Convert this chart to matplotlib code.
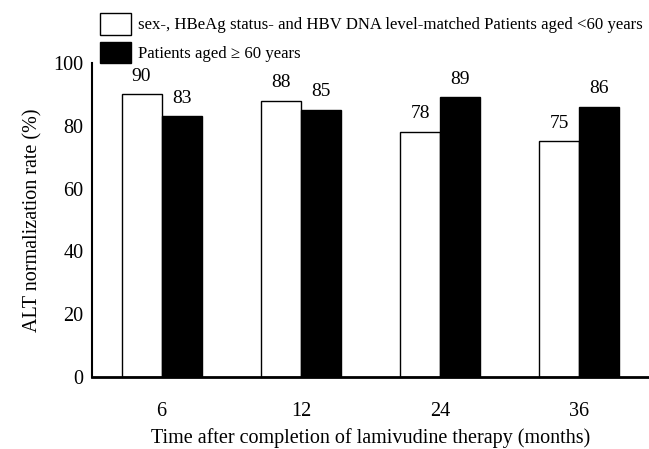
import numpy as np
import matplotlib.pyplot as plt
from matplotlib.patches import Patch

# ALT normalization rate after lamivudine, by age group
months = ['6', '12', '24', '36']
younger = [90, 88, 78, 75]   # matched patients aged <60
older = [83, 85, 89, 86]     # patients aged >= 60

plt.rcParams['font.family'] = ['Liberation Serif', 'DejaVu Serif']

fig = plt.figure(figsize=(6.49, 4.49), dpi=100)
ax = fig.add_axes([0.1418, 0.160, 0.858, 0.700])

x = np.arange(len(months))
w = 0.288
b1 = ax.bar(x - w / 2, younger, w, color='white', edgecolor='black', linewidth=1.0)
b2 = ax.bar(x + w / 2, older, w, color='black', edgecolor='black', linewidth=1.0)

for rect, v in zip(list(b1) + list(b2), younger + older):
    ax.annotate(str(v), (rect.get_x() + rect.get_width() / 2, v),
                xytext=(0, 7), textcoords='offset points',
                ha='center', va='bottom', fontsize=14)

ax.set_xlim(-0.5, 3.5)
ax.set_ylim(0, 100)
ax.set_yticks([0, 20, 40, 60, 80, 100])
ax.set_xticks(x)
ax.set_xticklabels(months)
ax.tick_params(length=0, labelsize=14.5)
ax.tick_params(axis='x', pad=18)
ax.tick_params(axis='y', pad=6)
for s in ['top', 'right']:
    ax.spines[s].set_visible(False)
ax.spines['bottom'].set_linewidth(2)
ax.spines['left'].set_linewidth(1.5)

ax.set_xlabel('Time after completion of lamivudine therapy (months)', fontsize=14.5, labelpad=5)
ax.set_ylabel('ALT normalization rate (%)', fontsize=14.5, labelpad=8)

handles = [Patch(facecolor='white', edgecolor='black', linewidth=1.0),
           Patch(facecolor='black', edgecolor='black')]
labels = ['sex-, HBeAg status- and HBV DNA level-matched Patients aged <60 years',
          'Patients aged \u2265 60 years']
fig.legend(handles, labels, loc='upper left', bbox_to_anchor=(0.154, 0.971),
           frameon=False, fontsize=12.1, borderpad=0, borderaxespad=0,
           handlelength=1.86, handleheight=1.6, handletextpad=0.4, labelspacing=0.42)

fig.savefig('out.png', dpi=100)
